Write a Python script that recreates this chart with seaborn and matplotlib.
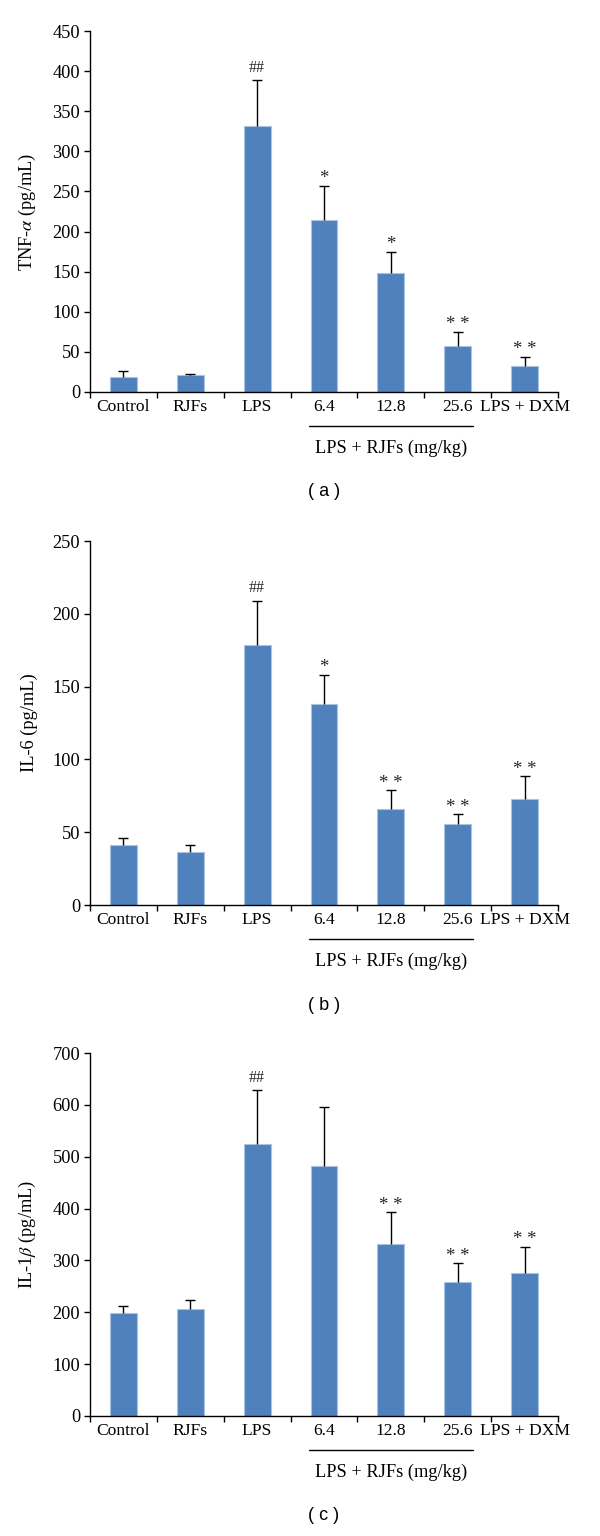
import numpy as np
import pandas as pd
import matplotlib
matplotlib.use("Agg")
import matplotlib.pyplot as plt
import seaborn as sns
from matplotlib.lines import Line2D

# ---------------- data ----------------
groups = ["Control", "RJFs", "LPS", "6.4", "12.8", "25.6", "LPS + DXM"]

tnf_mean = [18.3, 20.8, 331.5, 215.0, 148.5, 57.4, 32.0]
tnf_sd = [8.3, 2.1, 56.9, 42.4, 26.2, 17.5, 12.1]
tnf_sig = ["", "", "##", "*", "*", "* *", "* *"]

il6_mean = [41.4, 36.1, 178.7, 138.0, 66.2, 55.4, 72.7]
il6_sd = [4.4, 5.1, 30.4, 20.2, 12.5, 6.9, 15.8]
il6_sig = ["", "", "##", "*", "* *", "* *", "* *"]

il1b_mean = [199.5, 206.1, 524.8, 482.0, 331.2, 257.5, 276.6]
il1b_sd = [13.2, 17.8, 103.4, 114.0, 61.3, 36.9, 50.0]
il1b_sig = ["", "", "##", "", "* *", "* *", "* *"]

panels = [
    dict(mean=tnf_mean, sd=tnf_sd, sig=tnf_sig, ylabel=r"TNF-$\alpha$ (pg/mL)",
         ymax=450, step=50, caption="( a )"),
    dict(mean=il6_mean, sd=il6_sd, sig=il6_sig, ylabel="IL-6 (pg/mL)",
         ymax=250, step=50, caption="( b )"),
    dict(mean=il1b_mean, sd=il1b_sd, sig=il1b_sig, ylabel=r"IL-1$\beta$ (pg/mL)",
         ymax=700, step=100, caption="( c )"),
]
group_label = "LPS + RJFs (mg/kg)"

# ---------------- style ----------------
sns.set_theme(style="ticks")
plt.rcParams["font.family"] = ["Liberation Serif", "DejaVu Serif"]
plt.rcParams["mathtext.fontset"] = "stix"

BAR = "#4F81BD"
EDGE = "#A9C3E3"
FS = 13.2
FSX = 12.6

fig = plt.figure(figsize=(6.0, 15.36), dpi=100)
W, H = 600.0, 1536.0
# (top px, bottom px) of each axes
boxes = [(31, 392), (541, 905), (1053, 1416)]
left_px, right_px = 90, 558

for p, (top, bot) in zip(panels, boxes):
    ax = fig.add_axes([left_px / W, 1 - bot / H, (right_px - left_px) / W, (bot - top) / H])
    df = pd.DataFrame({"group": groups, "value": p["mean"]})
    sns.barplot(data=df, x="group", y="value", order=groups, color=BAR,
                width=0.4, errorbar=None, edgecolor=EDGE, linewidth=0.8,
                saturation=1, ax=ax, zorder=2)
    xs = np.arange(len(groups))
    eb = ax.errorbar(xs, p["mean"], yerr=[np.zeros(len(groups)), p["sd"]],
                     fmt="none", ecolor="black", elinewidth=1.0, capsize=3.5,
                     capthick=1.0, zorder=3)
    eb[1][0].set_visible(False)  # hide lower caps

    # significance marks
    for x, m, s, txt in zip(xs, p["mean"], p["sd"], p["sig"]):
        if txt:
            if txt == "##":
                ax.annotate(txt, xy=(x, m + s), xytext=(0, 3.0), textcoords="offset points",
                            ha="center", va="bottom", fontsize=11.5)
            else:
                ax.annotate(txt, xy=(x, m + s), xytext=(0, -1.0), textcoords="offset points",
                            ha="center", va="bottom", fontsize=13.5)

    ax.set_xlim(-0.5, len(groups) - 0.5)
    ax.set_ylim(0, p["ymax"])
    ax.set_yticks(np.arange(0, p["ymax"] + 1, p["step"]))
    ax.set_xticks(np.arange(-0.5, len(groups), 1.0))
    ax.set_xticklabels([])
    ax.set_xticks(xs, minor=True)
    ax.set_xticklabels(groups, minor=True)
    ax.tick_params(axis="x", which="minor", length=0, pad=5, labelsize=FSX)
    ax.tick_params(axis="x", which="major", length=4, width=1.0, direction="out", color="black")
    ax.tick_params(axis="y", length=4, width=1.0, direction="out", labelsize=FS, pad=3, color="black")
    for lab in ax.get_yticklabels() + ax.get_xticklabels(minor=True):
        lab.set_color("black")
    ax.set_xlabel("")
    ax.set_ylabel(p["ylabel"], fontsize=FS, color="black")
    ax.yaxis.set_label_coords(-0.112, 0.5)
    for sp in ["top", "right"]:
        ax.spines[sp].set_visible(False)
    for sp in ["left", "bottom"]:
        ax.spines[sp].set_linewidth(1.0)
        ax.spines[sp].set_color("black")
    ax.set_facecolor("white")

    # group underline and label
    hpx = bot - top
    trans = ax.get_xaxis_transform()
    ax.add_line(Line2D([2.78, 5.23], [-34 / hpx, -34 / hpx], transform=trans,
                       color="black", linewidth=1.0, clip_on=False))
    ax.text(4.0, -56 / hpx, group_label, transform=trans, ha="center", va="center",
            fontsize=FS, color="black")
    # caption
    ax.text(0.5, -100 / hpx, p["caption"], transform=ax.transAxes, ha="center",
            va="center", fontsize=13, color="black", family=["Liberation Sans", "DejaVu Sans"])

fig.savefig("out.png", dpi=100, facecolor="white")
